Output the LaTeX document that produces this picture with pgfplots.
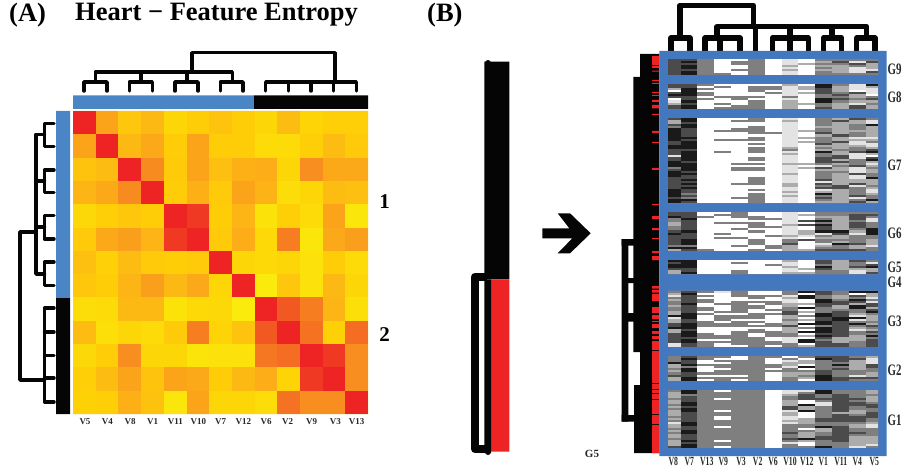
\documentclass[border=0pt]{standalone}
\usepackage{graphicx}
\usepackage{pgfplots}
\usepackage{pgfplotstable}
\pgfplotsset{compat=1.18}
\usepackage{fontspec}
\setmainfont{Liberation Serif}
\definecolor{ablue}{RGB}{74,134,197}
\definecolor{bblue}{RGB}{68,120,190}
\definecolor{kk}{RGB}{5,5,5}
\definecolor{rd}{RGB}{238,35,36}
\definecolor{txt}{RGB}{40,40,40}
\pgfplotsset{px/.style={at={(0pt,0pt)},anchor=south west,scale only axis,width=904pt,height=473pt,
  xmin=0,xmax=904,ymin=0,ymax=473,y dir=reverse,hide axis}}
\newcommand\rect[5]{\addplot[fill=#5,draw=none,forget plot] coordinates {(#1,#2)(#3,#2)(#3,#4)(#1,#4)(#1,#2)};}
\newcommand\dline[2]{\addplot[kk,line width=#1pt,line cap=round,line join=round,forget plot] coordinates {#2};}
\newcommand\colm[6]{\addplot[mesh,shader=flat corner,line width=#6pt,point meta=\thisrow{#2},forget plot] table[x expr=#5,y expr={#3+\coordindex*#4}] {#1};}
\newcommand\grp[3]{%
 \colm{#1}{c1}{#2}{#3}{674.5}{13}\colm{#1}{c2}{#2}{#3}{689}{16}\colm{#1}{c3}{#2}{#3}{705.5}{17}%
 \colm{#1}{c4}{#2}{#3}{722.5}{17}\colm{#1}{c5}{#2}{#3}{739.5}{17}\colm{#1}{c6}{#2}{#3}{756.5}{17}%
 \colm{#1}{c7}{#2}{#3}{773.5}{17}\colm{#1}{c8}{#2}{#3}{790}{16}\colm{#1}{c9}{#2}{#3}{806.5}{17}%
 \colm{#1}{c10}{#2}{#3}{823.5}{17}\colm{#1}{c11}{#2}{#3}{840.5}{17}\colm{#1}{c12}{#2}{#3}{857.5}{17}%
 \colm{#1}{c13}{#2}{#3}{872.15}{12.3}}

\pgfplotstableread{
c1 c2 c3 c4 c5 c6 c7 c8 c9 c10 c11 c12 c13
1 .55 .33 .42 .2 .28 .35 .28 .2 .4 .22 .27 .27
.55 1 .42 .52 .28 .55 .28 .28 .15 .15 .27 .4 .3
.35 .4 1 .7 .3 .55 .38 .48 .5 .2 .68 .52 .52
.45 .52 .7 1 .28 .48 .3 .55 .47 .13 .2 .4 .38
.18 .27 .32 .28 1 .95 .28 .45 .08 .27 .15 .55 .05
.3 .52 .58 .45 .95 1 .3 .5 .17 .75 .05 .52 .58
.38 .26 .4 .3 .28 .3 1 .2 .17 .2 .1 .28 .15
.32 .28 .45 .58 .42 .52 .2 1 0 .33 .1 .42 .2
.13 .15 .42 .42 .08 .17 .18 0 1 .88 .75 .45 .12
.4 .12 .2 .15 .3 .75 .22 .35 .88 1 .8 .25 .82
.18 .28 .68 .2 .2 .07 .1 .1 .78 .82 1 .95 .68
.27 .4 .55 .35 .55 .52 .28 .42 .5 .22 .95 1 .68
.25 .27 .48 .36 .05 .55 .2 .2 .13 .8 .68 .68 1
.25 .27 .48 .36 .05 .55 .2 .2 .13 .8 .68 .68 1
}\tA
\pgfplotstableread{
c1 c2 c3 c4 c5 c6 c7 c8 c9 c10 c11 c12 c13
4 4 3 0 0 3 0 1 0 3 3 3 3
4 5 3 0 3 3 0 1 0 2 4 1 4
4 4 3 0 3 3 0 1 2 3 3 4 2
4 5 3 0 0 3 0 2 0 2 2 3 2
4 5 3 0 0 3 0 1 0 3 2 1 2
4 4 3 0 3 3 0 2 0 2 2 1 1
4 5 3 0 0 3 0 1 0 3 2 1 4
4 5 3 3 0 3 0 1 0 3 3 3 3
4 5 3 3 0 3 0 1 0 3 3 3 3
}\tGnine
\pgfplotstableread{
c1 c2 c3 c4 c5 c6 c7 c8 c9 c10 c11 c12 c13
4 4 3 0 0 0 0 2 0 5 3 1 5
4 4 0 3 0 3 3 1 2 5 2 1 2
2 5 3 0 0 3 3 1 2 4 2 1 1
0 5 0 0 0 3 0 1 0 4 2 0 1
4 5 3 0 0 0 3 1 2 4 3 4 1
5 5 3 0 0 0 0 1 0 3 4 2 0
4 4 0 3 3 3 0 3 0 3 3 2 3
0 4 3 0 3 0 0 1 0 5 4 3 4
1 5 0 0 0 3 0 2 0 5 3 2 2
2 4 0 3 0 3 0 2 2 3 2 1 3
4 5 0 0 3 3 0 2 0 3 2 4 2
4 5 0 3 3 3 0 2 0 4 2 4 2
4 5 0 3 3 3 0 2 0 4 2 4 2
}\tGeight
\pgfplotstableread{
c1 c2 c3 c4 c5 c6 c7 c8 c9 c10 c11 c12 c13
4 5 0 0 0 3 0 1 0 3 2 4 3
2 5 0 0 3 3 0 2 0 3 4 2 1
2 4 0 0 0 0 0 1 0 3 2 2 1
4 5 0 0 0 0 0 1 0 3 2 3 5
3 5 0 0 0 3 0 1 0 2 2 3 2
5 4 0 0 3 3 0 1 0 3 2 3 2
5 4 0 3 3 3 0 1 2 3 2 2 2
5 4 0 0 0 3 3 1 0 4 2 3 2
5 4 0 0 0 0 0 1 0 2 4 3 2
5 5 0 0 0 3 0 1 2 3 2 1 1
5 4 0 3 3 3 0 1 0 3 2 2 2
4 5 0 0 0 0 0 1 2 3 4 1 3
4 5 0 0 0 3 0 1 0 4 2 1 1
5 5 0 0 0 0 0 1 0 2 2 2 1
5 5 0 0 0 3 0 2 0 3 2 3 2
4 4 0 0 0 3 0 3 0 2 3 3 4
4 5 0 3 0 3 0 1 0 5 2 4 5
4 5 0 0 0 0 0 2 0 3 2 1 2
1 5 0 0 0 0 0 1 0 3 4 1 0
4 5 0 0 0 3 0 1 0 4 4 1 4
4 5 0 0 0 3 0 1 0 4 2 3 5
5 4 0 0 0 0 0 1 0 4 4 3 2
5 5 0 0 3 3 0 2 2 3 2 3 1
5 5 0 0 0 0 0 1 0 1 3 4 2
3 5 0 0 3 3 0 1 2 4 2 1 3
4 5 0 0 3 3 0 1 0 2 2 1 2
5 4 0 0 0 0 0 1 0 3 3 1 2
5 5 0 0 0 0 0 2 0 3 2 4 3
5 4 0 0 0 0 0 1 0 3 2 1 3
4 4 0 0 0 3 0 1 0 3 2 1 5
4 5 0 0 0 3 0 1 0 4 2 2 2
4 4 0 0 0 3 0 1 0 1 2 2 2
4 5 0 0 3 3 0 2 0 4 2 4 2
4 4 0 0 0 0 0 2 0 3 4 1 3
4 5 0 0 0 0 0 1 0 4 4 3 2
5 4 0 0 0 3 0 1 0 1 2 3 1
5 4 0 0 0 0 0 2 0 2 2 3 1
5 3 0 0 0 3 0 1 0 5 2 3 2
5 4 0 0 0 3 0 2 0 3 2 4 3
4 3 0 0 3 3 0 1 0 4 2 1 3
5 5 0 0 0 3 0 1 0 3 2 3 5
5 4 0 0 0 3 0 1 0 2 2 4 2
5 4 0 0 0 3 0 1 0 2 2 4 2
}\tGseven
\pgfplotstableread{
c1 c2 c3 c4 c5 c6 c7 c8 c9 c10 c11 c12 c13
4 4 0 0 3 0 0 1 0 3 3 3 3
4 4 0 3 3 0 0 1 2 3 3 4 4
5 4 3 0 3 3 0 1 0 2 2 4 3
3 5 0 0 0 3 3 1 0 3 2 4 1
3 4 0 0 0 0 0 1 4 5 2 3 1
2 4 0 3 3 3 0 1 0 3 2 4 3
2 4 0 0 0 3 0 2 4 5 2 4 3
3 4 0 0 0 3 3 1 0 4 2 4 3
3 4 0 0 3 0 0 1 0 4 2 3 5
4 5 0 0 0 3 0 1 2 5 5 2 5
5 4 0 3 0 0 0 1 2 1 4 1 5
4 4 0 0 0 0 3 2 1 3 2 3 3
4 4 0 3 3 0 0 1 0 2 2 3 3
4 5 0 0 0 3 0 3 4 3 3 3 2
4 5 0 0 0 3 0 3 0 3 2 3 2
4 5 0 0 0 3 0 4 0 1 5 4 2
3 3 0 0 3 0 3 2 0 2 3 2 1
5 5 0 0 0 0 3 2 0 3 3 2 3
2 4 3 0 0 3 0 2 2 4 4 4 3
2 4 3 0 0 3 0 2 2 4 4 4 3
}\tGsix
\pgfplotstableread{
c1 c2 c3 c4 c5 c6 c7 c8 c9 c10 c11 c12 c13
5 5 0 0 0 0 0 2 0 4 2 4 3
4 5 0 0 3 0 0 1 0 4 2 3 1
5 5 0 0 0 0 3 1 0 3 2 3 4
5 5 0 0 0 0 0 2 0 5 2 4 5
4 4 0 0 0 0 0 1 2 4 2 2 2
2 4 0 0 3 0 0 1 0 3 3 1 2
2 5 0 0 3 0 0 2 2 3 3 1 4
2 5 0 0 3 0 0 2 2 3 3 1 4
}\tGfive
\pgfplotstableread{
c1 c2 c3 c4 c5 c6 c7 c8 c9 c10 c11 c12 c13
3 4 3 1 3 0 0 3 5 4 3 5 5
2 5 0 0 3 0 0 3 0 4 3 0 2
1 4 3 0 3 3 3 1 5 3 2 4 2
3 4 0 0 0 3 0 2 5 3 2 3 1
2 4 3 0 0 0 0 1 0 5 3 5 3
3 4 3 0 3 3 3 1 0 5 4 4 1
3 5 0 3 3 0 3 2 2 4 4 2 4
2 4 0 0 3 3 0 2 0 4 2 5 4
3 4 3 0 3 3 0 3 5 3 2 5 2
3 4 3 0 3 0 3 3 0 3 3 3 4
2 4 0 3 3 0 0 4 2 3 4 3 5
2 5 3 0 0 3 3 4 0 5 4 2 3
5 5 0 3 3 3 0 2 3 5 4 1 2
1 5 0 3 3 3 0 2 0 4 5 5 2
2 4 0 3 0 0 0 3 2 4 5 1 2
2 4 3 0 3 3 0 2 0 5 4 3 3
4 5 3 3 3 0 3 2 5 5 4 5 2
4 5 3 3 3 3 3 4 0 3 4 3 4
5 5 0 0 0 0 0 2 3 5 4 2 3
2 4 0 0 0 3 0 2 0 5 4 1 2
2 5 0 0 3 3 3 2 5 5 4 3 4
4 5 3 0 3 0 3 3 0 4 4 3 3
4 5 3 3 3 0 3 3 2 5 4 2 5
4 4 3 3 3 3 0 1 0 4 2 2 3
4 5 0 0 3 3 0 1 5 3 2 2 4
4 5 3 3 3 3 3 1 5 4 2 3 4
1 4 3 0 3 3 3 3 0 4 4 3 4
1 4 3 0 0 3 0 3 2 4 4 3 4
1 4 3 0 0 3 0 3 2 4 4 3 4
}\tGthree
\pgfplotstableread{
c1 c2 c3 c4 c5 c6 c7 c8 c9 c10 c11 c12 c13
3 4 3 3 0 3 3 0 3 4 4 3 2
3 5 3 0 0 3 0 3 0 5 4 4 1
3 4 0 3 3 3 0 1 2 3 4 2 1
5 4 0 0 3 3 0 2 2 3 3 2 1
2 5 3 3 3 3 3 2 0 3 5 2 4
2 3 0 3 3 3 3 1 5 3 3 2 4
3 5 0 0 3 3 0 3 0 3 4 2 3
2 5 0 3 3 3 3 3 3 4 3 3 3
3 4 3 3 3 3 0 2 2 4 3 3 2
4 4 0 0 0 3 0 2 3 5 3 1 2
2 5 3 3 3 3 0 3 2 5 4 4 4
2 5 0 3 0 3 0 3 0 5 4 3 3
2 5 0 3 0 3 0 3 0 5 4 3 3
}\tGtwo
\pgfplotstableread{
c1 c2 c3 c4 c5 c6 c7 c8 c9 c10 c11 c12 c13
3 5 3 0 3 3 0 1 1 5 3 3 2
2 5 3 3 3 3 0 1 3 5 3 3 2
2 3 3 3 3 3 0 2 4 3 4 3 3
2 4 3 3 3 3 0 3 4 3 4 3 2
3 4 3 0 3 3 0 3 4 4 4 4 2
2 4 3 3 3 3 0 2 0 3 4 3 2
2 5 3 3 3 3 0 2 0 1 4 4 3
3 5 3 3 3 3 0 2 5 1 4 4 4
2 4 3 3 3 3 0 4 2 3 4 3 4
3 5 3 3 3 3 0 4 2 3 4 3 3
2 5 3 0 3 3 0 1 5 3 4 2 3
2 4 3 3 3 3 0 2 0 3 2 2 4
2 4 3 3 3 3 0 2 0 3 4 3 4
3 4 3 0 3 3 0 1 0 3 4 4 4
2 4 3 0 3 3 0 1 2 4 4 4 3
3 4 3 3 3 3 0 2 2 4 4 4 3
1 5 3 3 3 3 0 1 2 3 3 3 2
2 5 3 3 3 3 0 3 3 3 3 2 1
2 4 3 0 3 3 0 3 3 5 4 2 1
3 4 3 3 3 3 0 3 0 2 4 3 3
2 5 3 3 3 3 0 3 3 2 4 3 3
3 5 3 3 3 3 0 4 2 3 4 4 3
2 4 3 3 3 3 0 3 2 3 4 3 3
2 4 3 3 3 3 0 3 2 4 4 2 2
3 4 3 3 3 3 0 4 5 4 4 2 2
2 5 3 0 3 3 0 3 2 3 4 2 2
2 4 3 3 3 3 0 1 0 3 3 2 2
2 5 3 3 3 3 0 3 0 3 3 2 1
4 5 3 0 3 3 0 3 3 5 3 1 3
4 5 3 0 3 3 0 3 3 5 3 1 3
}\tGone

\begin{document}
\begin{tikzpicture}
\useasboundingbox (0pt,0pt) rectangle (904pt,473pt);
% ---------- shapes and text
\begin{axis}[px]
% panel A side bars
\rect{73}{95.5}{254}{109}{ablue}
\rect{254}{95.5}{368}{109}{kk}
\rect{56}{111}{70}{298}{ablue}
\rect{56}{298}{70}{414}{kk}
% panel A top dendrogram
\dline{3.5}{(84,91)(84,82)(107,82)(107,91)}
\dline{3.5}{(129.3,91)(129.3,82)(152.3,82)(152.3,91)}
\dline{3.5}{(175,91)(175,82)(198,82)(198,91)}
\dline{3.5}{(220.3,91)(220.3,82)(243,82)(243,91)}
\dline{3.5}{(265.7,91)(265.7,82)(356.3,82)(356.3,91)}
\dline{3.5}{(288.3,82)(288.3,91)}
\dline{3.5}{(311,82)(311,91)}
\dline{3.5}{(333.7,82)(333.7,91)}
\dline{3.5}{(95.3,82)(95.3,72)(232.3,72)(232.3,82)}
\dline{3.5}{(141,72)(141,82)}
\dline{3.5}{(187,72)(187,82)}
\dline{3.5}{(192,72)(192,52.7)(335,52.7)(335,82)}
% panel A left dendrogram
\dline{3.5}{(54,123.3)(44.5,123.3)(44.5,146.3)(54,146.3)}
\dline{3.5}{(54,170)(44.5,170)(44.5,192.7)(54,192.7)}
\dline{3.5}{(54,215.3)(44.5,215.3)(44.5,239)(54,239)}
\dline{3.5}{(54,262)(44.5,262)(44.5,285.3)(54,285.3)}
\dline{3.5}{(44.5,134.3)(36,134.3)(36,274)(44.5,274)}
\dline{3.5}{(36,181)(44.5,181)}
\dline{3.5}{(36,227)(44.5,227)}
\dline{3.5}{(36,232)(20,232)(20,380)(44.5,380)}
\dline{3.5}{(54,308)(44.5,308)(44.5,402)(54,402)}
\dline{3.5}{(44.5,332)(54,332)}
\dline{3.5}{(44.5,355.7)(54,355.7)}
\dline{3.5}{(44.5,378)(54,378)}
% middle bar
\rect{484.3}{61.7}{509.3}{279.3}{kk}
\rect{491}{279.3}{509.3}{451.7}{rd}
\rect{484.3}{279.3}{491}{453}{kk}
\dline{6}{(488,63)(488,64)}
\dline{6}{(488,451)(488,452)}
\addplot[kk,line width=8pt,line join=round,forget plot] coordinates {(487,276.7)(475,276.7)(475,449)(487,449)};
% arrow
\addplot[fill=kk,draw=none,forget plot] coordinates {(542.3,228.3)(569.3,228.3)(557.7,213.3)(570,213.3)(590.7,233.3)(570,253.3)(557.7,253.3)(572.3,238.3)(542.3,238.3)(542.3,228.3)};
% panel B black side mass
\rect{640}{54}{659.3}{453}{kk}
\rect{633.3}{77}{640}{352}{kk}
\rect{634}{385}{640}{453}{kk}
\rect{621.7}{239}{628.3}{421.7}{kk}
\rect{621.7}{239}{634}{245.7}{kk}
\rect{628}{278}{634}{283}{kk}
\rect{628}{313}{634}{321.7}{kk}
\rect{621.7}{415}{634}{421.7}{kk}
% red stripes
\rect{652}{56}{659.3}{65}{rd}\rect{652}{66}{659.3}{68}{rd}\rect{652}{70.7}{659.3}{71.7}{rd}
\rect{652}{80}{659.3}{81}{rd}\rect{652}{83}{659.3}{84}{rd}\rect{652}{92}{659.3}{93}{rd}
\rect{652}{95}{659.3}{96}{rd}\rect{652}{100}{659.3}{102}{rd}\rect{652}{105}{659.3}{108.3}{rd}
\rect{652}{113.8}{659.3}{114.8}{rd}\rect{652}{131}{659.3}{133}{rd}\rect{652}{142}{659.3}{143}{rd}
\rect{652}{168}{659.3}{170}{rd}\rect{652}{204}{659.3}{205}{rd}\rect{652}{216}{659.3}{219}{rd}
\rect{652}{228}{659.3}{230}{rd}\rect{652}{238}{659.3}{239}{rd}\rect{652}{251}{659.3}{253}{rd}
\rect{652}{256}{659.3}{260}{rd}\rect{652}{286}{659.3}{288.7}{rd}\rect{652}{290}{659.3}{292.7}{rd}
\rect{652}{294}{659.3}{301}{rd}\rect{652}{307}{659.3}{313}{rd}\rect{652}{315}{659.3}{319}{rd}
\rect{652}{321}{659.3}{322}{rd}\rect{652}{324}{659.3}{328}{rd}\rect{652}{331}{659.3}{334}{rd}
\rect{652}{336}{659.3}{339}{rd}\rect{652}{341}{659.3}{350}{rd}\rect{652}{351}{659.3}{383}{rd}
\rect{652}{384}{659.3}{389}{rd}\rect{652}{390}{659.3}{393}{rd}\rect{652}{394}{659.3}{399}{rd}
\rect{652}{400}{659.3}{414}{rd}\rect{652}{415}{659.3}{424}{rd}\rect{652}{425}{659.3}{453}{rd}
% panel B top dendrogram
\dline{5.5}{(671,51)(671,38)(690,38)(690,51)}
\dline{5.5}{(705,51)(705,38)(740,38)(740,51)}
\dline{5.5}{(720,38)(720,51)}
\dline{5.5}{(755.7,51)(755.7,26.7)}
\dline{5.5}{(772.3,51)(772.3,38)(808.3,38)(808.3,51)}
\dline{5.5}{(790,38)(790,51)}
\dline{5.5}{(823.3,51)(823.3,38)(841.7,38)(841.7,51)}
\dline{5.5}{(856.7,51)(856.7,38)(875,38)(875,51)}
\dline{5.5}{(717,38)(717,26.7)(866.7,26.7)(866.7,38)}
\dline{5.5}{(790,38)(790,26.7)}
\dline{5.5}{(832,38)(832,26.7)}
\dline{5.5}{(680,38)(680,5.3)(753.3,5.3)(753.3,26.7)}
% blue frame
\rect{659.3}{51}{886.7}{456}{bblue}
\rect{668}{59.3}{878.3}{75}{gray}
\rect{668}{84}{878.3}{108.7}{gray}
\rect{668}{118.3}{878.3}{203.3}{gray}
\rect{668}{212.3}{878.3}{250.7}{gray}
\rect{668}{260}{878.3}{274.3}{gray}
\rect{668}{290.7}{878.3}{346.7}{gray}
\rect{668}{356}{878.3}{380.7}{gray}
\rect{668}{390}{878.3}{447.7}{gray}
\rect{73}{111}{368}{414}{orange!70!yellow}
% text
\node[anchor=west,inner sep=0pt,font=\fontsize{26.5}{28}\selectfont\bfseries,text=black] at (axis cs:9,15) {(A)};
\node[anchor=west,inner sep=0pt,font=\fontsize{26.5}{28}\selectfont\bfseries,text=black] at (axis cs:75,15) {Heart − Feature Entropy};
\node[anchor=west,inner sep=0pt,font=\fontsize{26.5}{28}\selectfont\bfseries,text=black] at (axis cs:427,15) {(B)};
\node[font=\fontsize{21}{23}\selectfont\bfseries] at (axis cs:384.5,202) {1};
\node[font=\fontsize{21}{23}\selectfont\bfseries] at (axis cs:384.5,335) {2};
\node[font=\fontsize{11}{13}\selectfont\bfseries,text=txt] at (axis cs:592,454) {G5};
\foreach \x/\t in {85/V5,107.3/V4,130/V8,152.7/V1,175.3/V11,198.3/V10,220.7/V7,243.3/V12,266/V6,287.7/V2,311.7/V9,335.3/V3,356.7/V13}{
  \edef\temp{\noexpand\node[font=\noexpand\fontsize{9}{10}\noexpand\selectfont\noexpand\bfseries,text=txt] at (axis cs:\x,421.7) {\t};}\temp}
\foreach \x/\t in {673.3/V8,689.3/V7,706.7/V13,723.3/V9,741/V3,757.7/V2,773/V6,790/V10,806.7/V12,823.3/V1,840.7/V11,857.3/V4,874.3/V5}{
  \edef\temp{\noexpand\node[font=\noexpand\fontsize{12.5}{14}\noexpand\selectfont\noexpand\bfseries,text=txt] at (axis cs:\x,461) {\noexpand\scalebox{.62}[1]{\t}};}\temp}
\foreach \y/\t in {69/G9,97.7/G8,165.7/G7,233.3/G6,267.3/G5,282.7/G4,321.7/G3,370/G2,420/G1}{
  \edef\temp{\noexpand\node[anchor=west,inner sep=0pt,font=\noexpand\fontsize{16}{18}\noexpand\selectfont\noexpand\bfseries,text=txt] at (axis cs:887.5,\y) {\noexpand\scalebox{.68}[1]{\t}};}\temp}
\end{axis}
% ---------- panel A heat map
\begin{axis}[px,point meta min=0,point meta max=1,
  colormap={hot}{rgb255(0)=(250,235,12) rgb255(25)=(254,209,6) rgb255(45)=(253,181,21) rgb255(70)=(247,139,32) rgb255(85)=(243,101,34) rgb255(100)=(238,35,36)}]
\colm{\tA}{c1}{111}{23.31}{84.35}{22.7}\colm{\tA}{c2}{111}{23.31}{107.05}{22.7}\colm{\tA}{c3}{111}{23.31}{129.75}{22.7}
\colm{\tA}{c4}{111}{23.31}{152.45}{22.7}\colm{\tA}{c5}{111}{23.31}{175.15}{22.7}\colm{\tA}{c6}{111}{23.31}{197.85}{22.7}
\colm{\tA}{c7}{111}{23.31}{220.5}{22.7}\colm{\tA}{c8}{111}{23.31}{243.2}{22.7}\colm{\tA}{c9}{111}{23.31}{265.9}{22.7}
\colm{\tA}{c10}{111}{23.31}{288.6}{22.7}\colm{\tA}{c11}{111}{23.31}{311.3}{22.7}\colm{\tA}{c12}{111}{23.31}{334}{22.7}
\colm{\tA}{c13}{111}{23.31}{356.65}{22.7}
\end{axis}
% ---------- panel B binned maps
\begin{axis}[px,point meta min=0,point meta max=5,
  colormap={bins}{rgb255(0)=(255,255,255) rgb255(1)=(227,227,227) rgb255(2)=(172,172,172) rgb255(3)=(127,127,127) rgb255(4)=(75,75,75) rgb255(5)=(26,26,26)}]
\grp{\tGnine}{59.3}{1.96}
\grp{\tGeight}{84}{2.06}
\grp{\tGseven}{118.3}{2.024}
\grp{\tGsix}{212.3}{2.02}
\grp{\tGfive}{260}{2.04}
\grp{\tGthree}{290.7}{2}
\grp{\tGtwo}{356}{2.06}
\grp{\tGone}{390}{1.99}
\end{axis}
\end{tikzpicture}
\end{document}
